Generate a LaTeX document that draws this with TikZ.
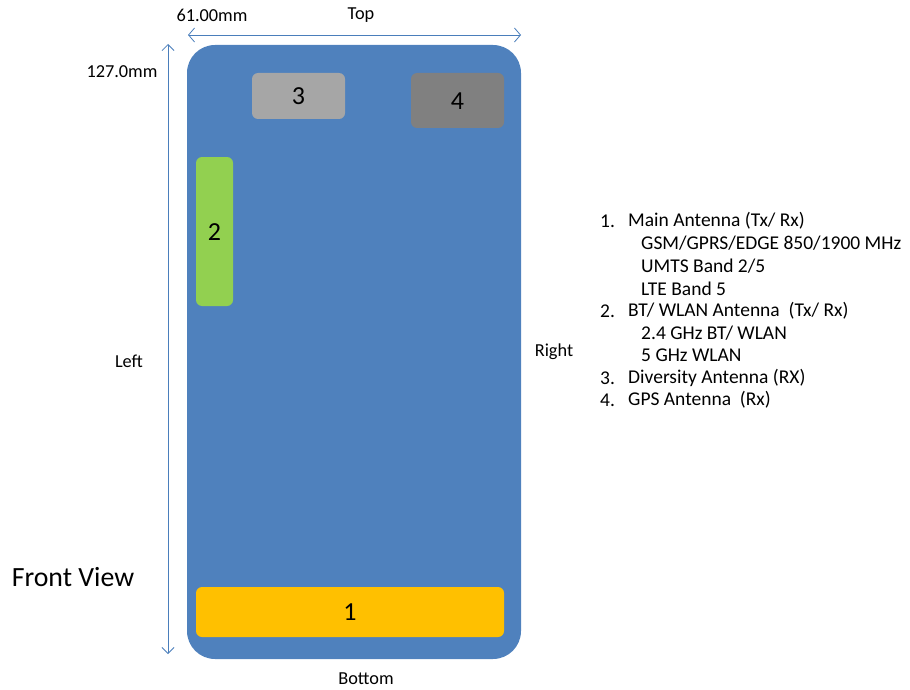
\documentclass[tikz,border=0pt]{standalone}
\usepackage{fontspec}
\setmainfont{Carlito}
\usetikzlibrary{arrows.meta}
\definecolor{phoneblue}{HTML}{4F81BD}
\definecolor{lgray}{HTML}{A6A6A6}
\definecolor{dgray}{HTML}{808080}
\definecolor{agreen}{HTML}{92D050}
\definecolor{aorange}{HTML}{FFC000}
\definecolor{arrowblue}{HTML}{4A7EBB}
\tikzset{
  px/.style={x=1pt,y=-1pt},
  antbox/.style={rounded corners=6pt, draw=none},
  numtxt/.style={font=\fontsize{26}{30}\selectfont, text=black},
  lbl/.style={font=\fontsize{18.3}{22}\selectfont, text=black, inner sep=0pt},
  listtxt/.style={font=\fontsize{19.5}{23}\selectfont, text=black, inner sep=0pt, anchor=west},
  dimarrow/.style={draw=arrowblue, line width=0.8pt, {Straight Barb[length=6pt,width=14pt]}-{Straight Barb[length=6pt,width=14pt]}},
  dimarrowv/.style={draw=arrowblue, line width=0.8pt, {Straight Barb[length=6pt,width=12pt]}-{Straight Barb[length=6pt,width=12pt]}},
}
\begin{document}
\begin{tikzpicture}[px]
\useasboundingbox (0,0) rectangle (910,690);
% phone body
\fill[phoneblue, rounded corners=28pt] (187,45) rectangle (521,659);
% antennas
\fill[lgray, antbox] (252,73) rectangle (345,119);
\node[numtxt] (n3) at (298.5,96) {3};
\fill[dgray, antbox] (411,73) rectangle (504,128);
\node[numtxt] (n4) at (457.5,101) {4};
\fill[agreen, antbox] (196,157) rectangle (233,306);
\node[numtxt] (n2) at (214.5,232) {2};
\fill[aorange, antbox] (196,587) rectangle (504,637);
\node[numtxt] (n1) at (350,612) {1};
% dimension arrows
\coordinate (hL) at (188,35);
\coordinate (hR) at (521,35);
\coordinate (vT) at (168,44);
\coordinate (vB) at (168,654);
\draw[dimarrow] (hL) -- (hR);
\draw[dimarrowv] (vT) -- (vB);
% labels
\node[lbl] (w) at (212,15) {61.00mm};
\node[lbl] (top) at (361,15) {Top};
\node[lbl] (h) at (122,72) {127.0mm};
\node[lbl] (left) at (129,361) {Left};
\node[lbl] (right) at (554,352) {Right};
\node[lbl] (bottom) at (366,679) {Bottom};
\node[font=\fontsize{27.8}{32}\selectfont, inner sep=0pt] (fv) at (73,577) {Front View};
% list
\begin{scope}[every node/.style={listtxt}]
\node (l1n) at (600,221) {1.};
\node (l1) at (628,221) {Main Antenna (Tx/ Rx)};
\node (l1a) at (641,243.5) {GSM/GPRS/EDGE 850/1900 MHz};
\node (l1b) at (641,266) {UMTS Band 2/5};
\node (l1c) at (641,288.5) {LTE Band 5};
\node (l2n) at (600,311) {2.};
\node (l2) at (628,311) {BT/ WLAN Antenna\ \ (Tx/ Rx)};
\node (l2a) at (641,333) {2.4 GHz BT/ WLAN};
\node (l2b) at (641,355.5) {5 GHz WLAN};
\node (l3n) at (600,378) {3.};
\node (l3) at (628,378) {Diversity Antenna (RX)};
\node (l4n) at (600,400) {4.};
\node (l4) at (628,400) {GPS Antenna\ \ (Rx)};
\end{scope}
\end{tikzpicture}
\end{document}
